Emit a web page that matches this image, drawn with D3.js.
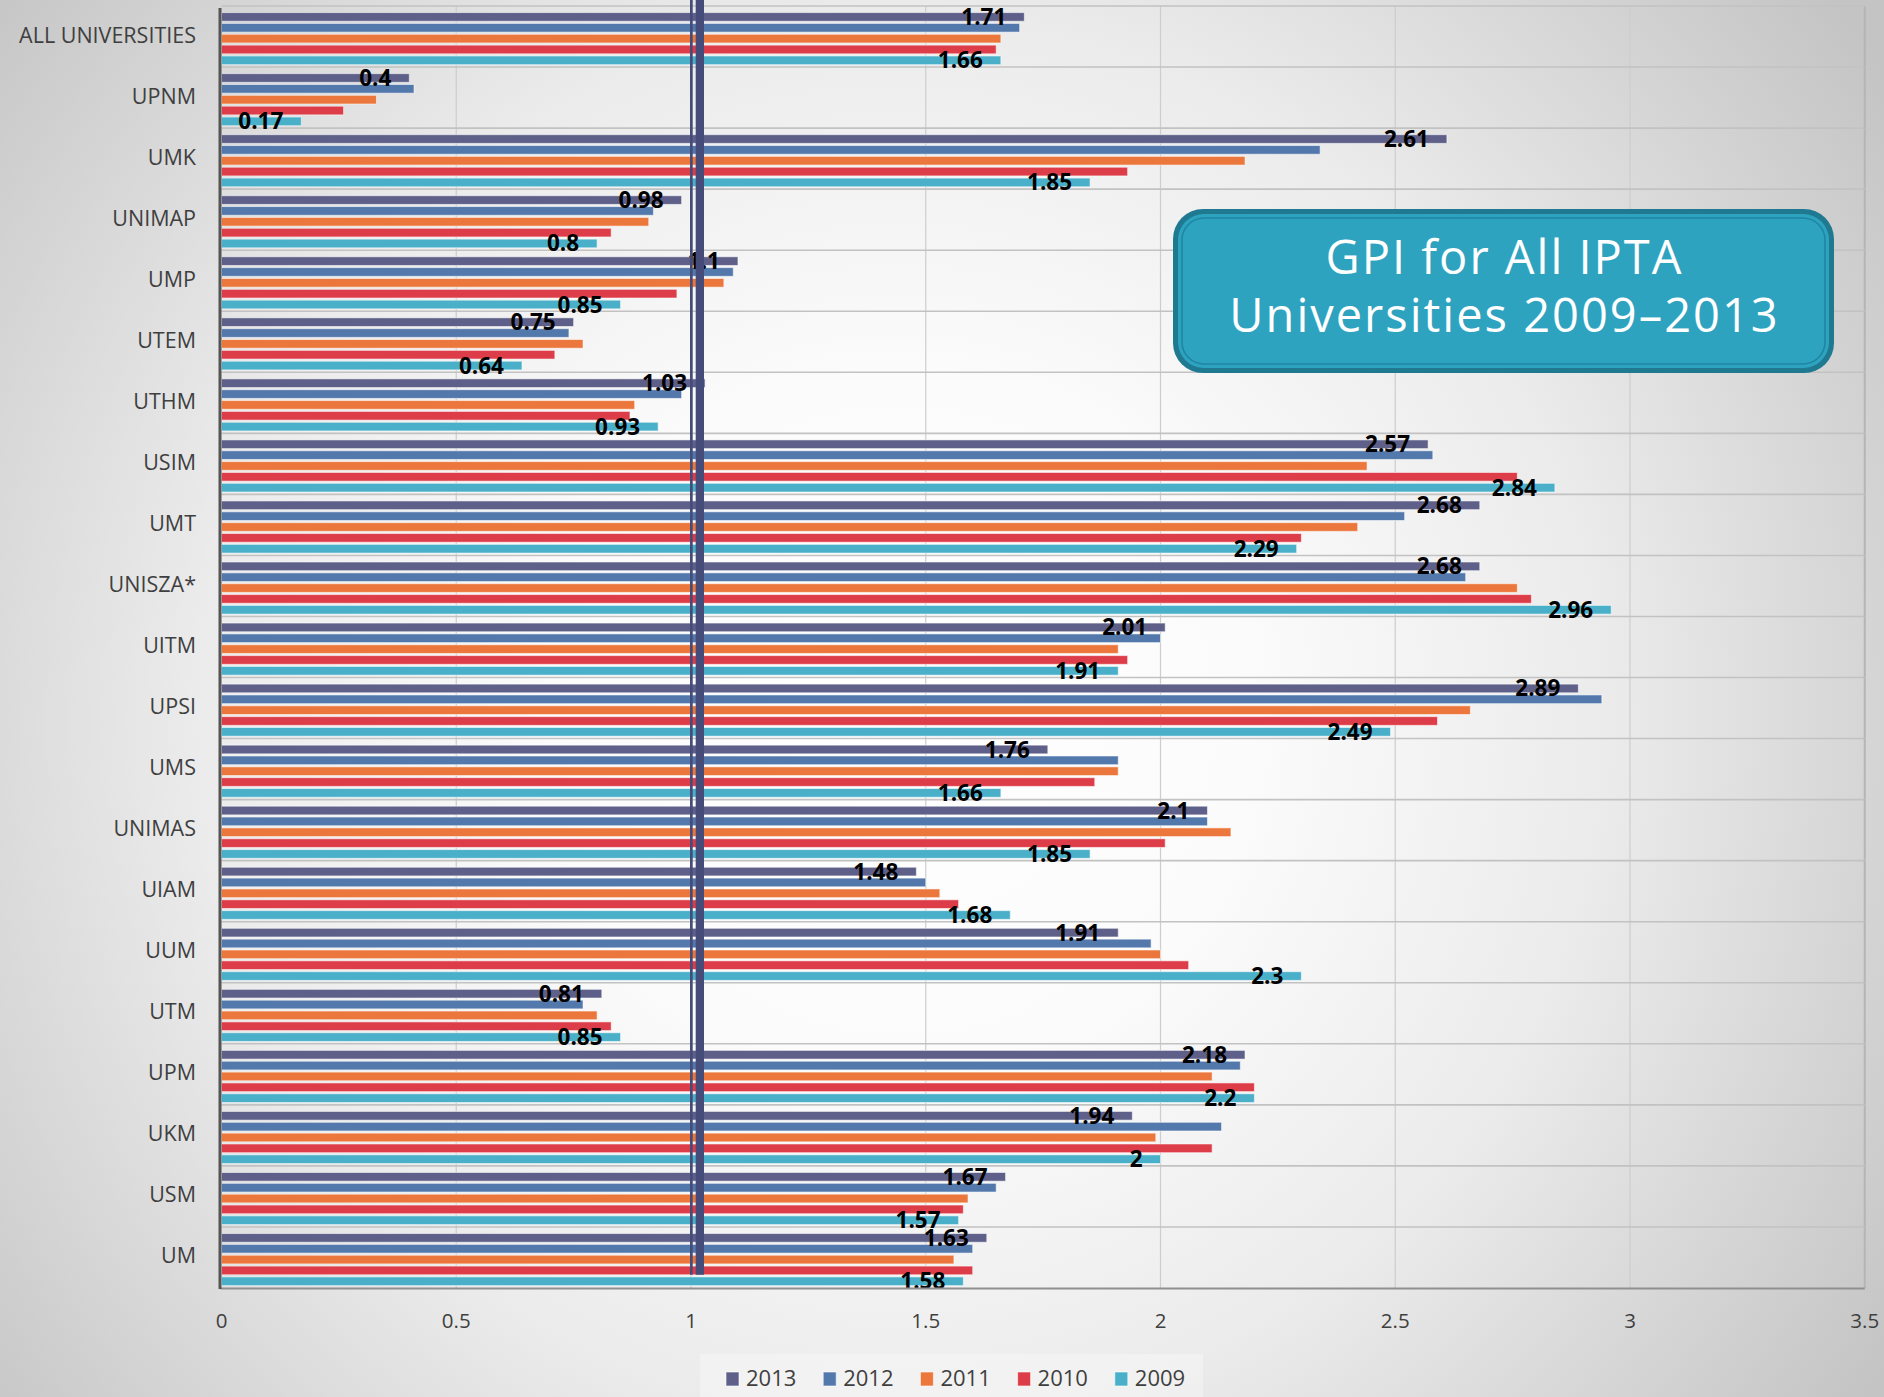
<!DOCTYPE html>
<html>
<head>
<meta charset="utf-8">
<script src="https://cdn.jsdelivr.net/npm/d3@7"></script>
<style>
  html, body { margin: 0; padding: 0; background: #eeeeee; }
  svg { display: block; }
</style>
</head>
<body>
<div id="chart"></div>
<script>
// ---------------- data ----------------
const categories = ["ALL UNIVERSITIES","UPNM","UMK","UNIMAP","UMP","UTEM","UTHM","USIM","UMT","UNISZA*","UITM","UPSI","UMS","UNIMAS","UIAM","UUM","UTM","UPM","UKM","USM","UM"];
const years = ["2013","2012","2011","2010","2009"];
const v2013 = [1.71,0.40,2.61,0.98,1.10,0.75,1.03,2.57,2.68,2.68,2.01,2.89,1.76,2.10,1.48,1.91,0.81,2.18,1.94,1.67,1.63];
const v2012 = [1.70,0.41,2.34,0.92,1.09,0.74,0.98,2.58,2.52,2.65,2.00,2.94,1.91,2.10,1.50,1.98,0.77,2.17,2.13,1.65,1.60];
const v2011 = [1.66,0.33,2.18,0.91,1.07,0.77,0.88,2.44,2.42,2.76,1.91,2.66,1.91,2.15,1.53,2.00,0.80,2.11,1.99,1.59,1.56];
const v2010 = [1.65,0.26,1.93,0.83,0.97,0.71,0.87,2.76,2.30,2.79,1.93,2.59,1.86,2.01,1.57,2.06,0.83,2.20,2.11,1.58,1.60];
const v2009 = [1.66,0.17,1.85,0.80,0.85,0.64,0.93,2.84,2.29,2.96,1.91,2.49,1.66,1.85,1.68,2.30,0.85,2.20,2.00,1.57,1.58];
const xTicks = [0,0.5,1,1.5,2,2.5,3,3.5];
const tickLabels = ["0","0.5","1","1.5","2","2.5","3","3.5"];
const labelledYears = ["2013","2009"];
const parityValue = 1;
const titleLines = ["GPI for All IPTA","Universities 2009\u20132013"];

const seriesValues = {"2013": v2013, "2012": v2012, "2011": v2011, "2010": v2010, "2009": v2009};
const colors = {"2013":"#5e6089","2012":"#5378ab","2011":"#ec773c","2010":"#dd3d48","2009":"#4aafc8"};

// ---------------- layout ----------------
const W = 1884, H = 1397;
const svg = d3.select("#chart").append("svg").attr("width", W).attr("height", H);

const defs = svg.append("defs");
const bg = defs.append("radialGradient").attr("id","bg")
  .attr("gradientUnits","userSpaceOnUse").attr("cx",900).attr("cy",720).attr("r",1180);
bg.append("stop").attr("offset","0%").attr("stop-color","#ffffff");
bg.append("stop").attr("offset","30%").attr("stop-color","#fbfbfb");
bg.append("stop").attr("offset","60%").attr("stop-color","#ebebeb");
bg.append("stop").attr("offset","100%").attr("stop-color","#c4c4c4");
svg.append("rect").attr("width",W).attr("height",H).attr("fill","url(#bg)");

const x = d3.scaleLinear().domain([0,3.5]).range([221.5, 1864.75]);
const y = d3.scaleBand().domain(categories).range([6, 1288]).padding(0);
const ySub = d3.scaleBand().domain(years).range([5.5, 59.75]).paddingInner(0.2).paddingOuter(0.1);

// gridlines vertical
svg.append("g").selectAll("line").data(xTicks.slice(1)).join("line")
  .attr("x1", d => x(d)).attr("x2", d => x(d))
  .attr("y1", y.range()[0]).attr("y2", y.range()[1])
  .attr("stroke", d => d === 3.5 ? "#b5b5b5" : "#cdcdcd").attr("stroke-width", d => d === 3.5 ? 2 : 1.2);

// gridlines horizontal (band boundaries)
const bounds = categories.map(c => y(c));
svg.append("g").selectAll("line").data(bounds).join("line")
  .attr("x1", x(0)).attr("x2", x(3.5))
  .attr("y1", d => d).attr("y2", d => d)
  .attr("stroke", "#c2c2c2").attr("stroke-width", 1.6);

// bars
const groups = svg.append("g").selectAll("g").data(categories).join("g")
  .attr("transform", c => `translate(0,${y(c)})`);
groups.selectAll("rect").data((c, i) => years.map(yr => ({yr, v: seriesValues[yr][i]})))
  .join("rect")
  .attr("x", x(0)).attr("y", d => ySub(d.yr))
  .attr("width", d => x(d.v) - x(0)).attr("height", ySub.bandwidth())
  .attr("fill", d => colors[d.yr])
  .attr("stroke", "rgba(255,255,255,0.55)").attr("stroke-width", 1);

// parity reference line at 1
const lineBottom = y("UM") + ySub("2010") + ySub.bandwidth();
const pl = svg.append("g");
pl.append("rect").attr("x", x(parityValue) - 1).attr("y", 0).attr("width", 2.7).attr("height", lineBottom)
  .attr("fill", "#464c7a");
pl.append("rect").attr("x", x(parityValue) + 4.7).attr("y", 0).attr("width", 8.3).attr("height", lineBottom)
  .attr("fill", "#464c7a");

// data labels
groups.selectAll("text.dl").data((c, i) => labelledYears.map(yr => ({yr, v: seriesValues[yr][i]})))
  .join("text").attr("class","dl")
  .attr("x", d => x(d.v) - 18)
  .attr("y", d => ySub(d.yr) + ySub.bandwidth()/2 + 8)
  .attr("text-anchor","end")
  .attr("font-family","'Open Sans', sans-serif").attr("font-weight", 700)
  .attr("font-size", 22.5).attr("fill","#000")
  .text(d => String(d.v));

// axes lines
svg.append("line").attr("x1", x(0)-1).attr("x2", x(3.5)).attr("y1", 1288.5).attr("y2", 1288.5)
  .attr("stroke","#8f8f8f").attr("stroke-width",2);
svg.append("line").attr("x1", x(0)-1.5).attr("x2", x(0)-1.5).attr("y1", 8).attr("y2", 1289)
  .attr("stroke","#555").attr("stroke-width",3);

// category labels
svg.append("g").selectAll("text").data(categories).join("text")
  .attr("x", 196).attr("y", c => y(c) + y.bandwidth()/2 + 6)
  .attr("text-anchor","end")
  .attr("font-family","'Open Sans', sans-serif").attr("font-size", 21.5).attr("fill","#3f3f3f")
  .text(c => c);

// tick labels
svg.append("g").selectAll("text").data(xTicks).join("text")
  .attr("x", d => x(d)).attr("y", 1328)
  .attr("text-anchor","middle")
  .attr("font-family","'Open Sans', sans-serif").attr("font-size", 20.5).attr("fill","#3f3f3f")
  .text((d, i) => tickLabels[i]);

// legend
const lg = svg.append("g");
lg.append("rect").attr("x",700).attr("y",1354).attr("width",503).attr("height",43)
  .attr("fill","rgba(255,255,255,0.3)");
const li = lg.selectAll("g").data(years).join("g")
  .attr("transform", (d, i) => `translate(${726 + i*97.2},0)`);
li.append("rect").attr("x",0).attr("y",1372).attr("width",13).attr("height",14)
  .attr("fill", d => colors[d]).attr("stroke","rgba(255,255,255,0.6)").attr("stroke-width",1);
li.append("text").attr("x",20).attr("y",1386)
  .attr("font-family","'Open Sans', sans-serif").attr("font-size",22).attr("fill","#3f3f3f")
  .text(d => d);

// title box
const tb = svg.append("g");
const bx = 1173, by = 209, bw = 661, bh = 164;
tb.append("rect").attr("x",bx).attr("y",by).attr("width",bw).attr("height",bh).attr("rx",30)
  .attr("fill","#1f7a91");
tb.append("rect").attr("x",bx+5).attr("y",by+5).attr("width",bw-10).attr("height",bh-10).attr("rx",26)
  .attr("fill","#2ea3c0");
tb.append("rect").attr("x",bx+9).attr("y",by+9).attr("width",bw-18).attr("height",bh-18).attr("rx",22)
  .attr("fill","none").attr("stroke","#1e86a2").attr("stroke-width",1.6);
tb.selectAll("text").data(titleLines).join("text")
  .attr("x", bx + bw/2 + 1).attr("y", (d, i) => 274 + i*58)
  .attr("text-anchor","middle")
  .attr("font-family","'Open Sans', sans-serif").attr("font-size",47).attr("letter-spacing",2)
  .attr("fill","#ffffff")
  .text(d => d);
</script>
</body>
</html>
